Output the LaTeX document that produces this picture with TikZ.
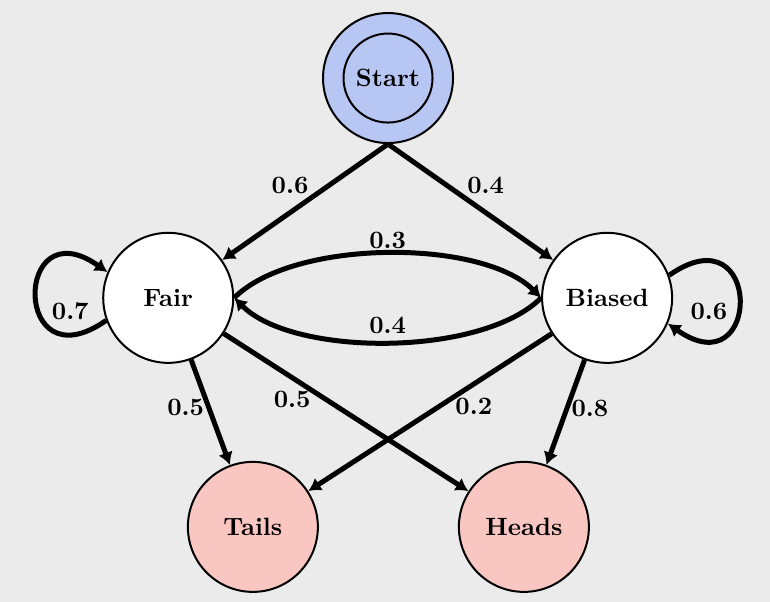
\documentclass[tikz,border=0pt]{standalone}
\usetikzlibrary{arrows.meta}

\definecolor{bggray}{RGB}{235,235,235}
\definecolor{startblue}{RGB}{184,198,243}
\definecolor{outpink}{RGB}{250,198,193}

\begin{document}
\begin{tikzpicture}[
  font=\bfseries,
  state/.style={circle,draw,thick,fill=white,minimum size=52pt,inner sep=0pt},
  startstate/.style={state,fill=startblue},
  endstate/.style={state,fill=outpink},
  trans/.style={-{Latex[length=5pt,width=6pt]},line width=2pt},
  prob/.style={inner sep=3.33pt}]

  % background and frame of the page
  \fill[bggray] (-5.455,1.097) rectangle (5.370,-7.366);

  \node(start)  [startstate] at (0,0)          {};
  \node(startin)[circle,draw,thick,minimum size=35.6pt,inner sep=0pt] at (start) {Start};
  \node(fair)   [state]      at (-3.09,-3.09)  {Fair};
  \node(biased) [state]      at (3.08,-3.09)   {Biased};
  \node(tails)  [endstate]   at (-1.90,-6.31)  {Tails};
  \node(heads)  [endstate]   at (1.91,-6.31)   {Heads};

  % which coin
  \draw[trans] (start.south) -- node[prob,pos=0.46,above left=-3pt]  {0.6} (fair);
  \draw[trans] (start.south) -- node[prob,pos=0.46,above right=-3pt] {0.4} (biased);

  % switching and staying
  \draw[trans] (fair.east) to[bend left=45,looseness=0.7] node[prob,above=-2.5pt] {0.3} (biased.west);
  \draw[trans] (biased.west) to[bend left=45,looseness=0.7] node[prob,above=-1pt] {0.4} (fair.east);
  \draw[trans] (fair.200) to[out=215,in=145,distance=46pt] node[prob,pos=0.15,above=2pt] {0.7} (fair.157);
  \draw[trans] (biased.20) to[out=35,in=-35,distance=46pt] node[prob,pos=0.85,above=3pt,xshift=2pt] {0.6} (biased.-23);

  % outcomes
  \draw[trans] (fair) -- node[prob,pos=0.45,left=-2.5pt]  {0.5} (tails);
  \draw[trans] (fair) -- node[prob,pos=0.28,below=1pt] {0.5} (heads);
  \draw[trans] (biased) -- node[prob,pos=0.32,below=1.5pt] {0.2} (tails);
  \draw[trans] (biased) -- node[prob,pos=0.46,right=-2.5pt] {0.8} (heads);

\end{tikzpicture}
\end{document}
